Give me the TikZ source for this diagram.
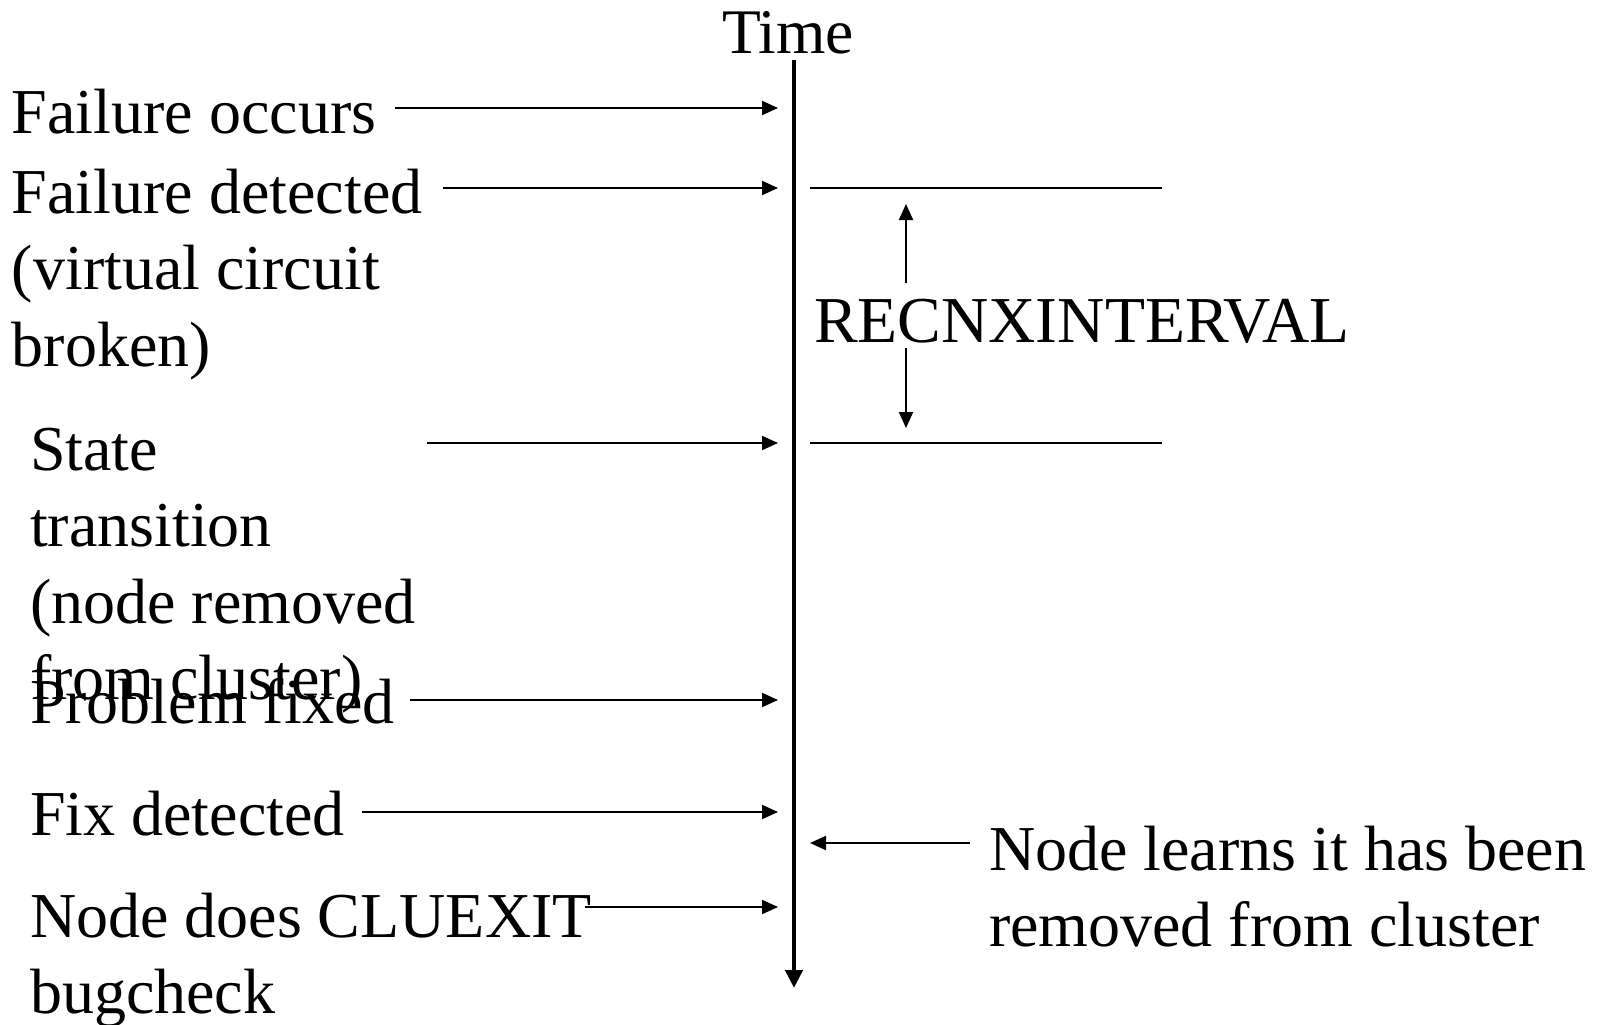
\documentclass[tikz,border=0pt]{standalone}
\usepackage{fontspec}
\setmainfont{Liberation Serif}
\usetikzlibrary{arrows.meta}
\begin{document}
\begin{tikzpicture}[x=1pt,y=-1pt,
  lbl/.style={inner sep=0pt, outer sep=0pt, align=left, anchor=base west,
              font=\fontsize{64}{76.5}\selectfont},
  evt/.style={line width=2pt, -{Triangle[length=16pt,width=14pt]}},
  mark line/.style={line width=2pt},
  timeline/.style={line width=4.5pt, -{Triangle[length=18pt,width=17pt]}}]
\useasboundingbox (0,0) rectangle (1598,1025);

% time axis
\node[inner sep=0pt, anchor=base, font=\fontsize{63.5}{76}\selectfont] (time) at (788,53) {Time};
\coordinate (ttop) at (794,60);
\coordinate (tbot) at (794,988);
\draw[timeline] (ttop) -- (tbot);

% events on the left (multi-line labels are placed by their last baseline)
\node[lbl] (fo) at (12,133) {Failure occurs};
\node[lbl] (fd) at (12,366) {Failure detected\\(virtual circuit\\broken)};
\node[lbl] (st) at (30,699.5) {State\\transition\\(node removed\\from cluster)};
\node[lbl] (pf) at (30,723) {Problem fixed};
\node[lbl] (fx) at (30,835) {Fix detected};
\node[lbl] (nd) at (30,1013.5) {Node does CLUEXIT\\bugcheck};

\coordinate (fo-s) at (395,108);  \coordinate (fo-t) at (778,108);
\coordinate (fd-s) at (443,188);  \coordinate (fd-t) at (778,188);
\coordinate (st-s) at (427,443);  \coordinate (st-t) at (778,443);
\coordinate (pf-s) at (410,700);  \coordinate (pf-t) at (778,700);
\coordinate (fx-s) at (362,812);  \coordinate (fx-t) at (778,812);
\coordinate (nd-s) at (585,907);  \coordinate (nd-t) at (778,907);

\draw[evt] (fo-s) -- (fo-t);
\draw[evt] (fd-s) -- (fd-t);
\draw[evt] (st-s) -- (st-t);
\draw[evt] (pf-s) -- (pf-t);
\draw[evt] (fx-s) -- (fx-t);
\draw[evt] (nd-s) -- (nd-t);

% reconnection interval
\coordinate (m1a) at (810,188);  \coordinate (m1b) at (1162,188);
\coordinate (m2a) at (810,443);  \coordinate (m2b) at (1162,443);
\draw[mark line] (m1a) -- (m1b);
\draw[mark line] (m2a) -- (m2b);
\node[lbl, font=\fontsize{65.5}{78}\selectfont] (rec) at (814,342) {RECNXINTERVAL};
\coordinate (up-s) at (906,283);  \coordinate (up-t) at (906,204);
\coordinate (dn-s) at (906,348);  \coordinate (dn-t) at (906,428);
\draw[evt] (up-s) -- (up-t);
\draw[evt] (dn-s) -- (dn-t);

% removal notice on the right
\node[lbl] (nl) at (989,946.5) {Node learns it has been\\removed from cluster};
\coordinate (nl-s) at (970,843);  \coordinate (nl-t) at (810,843);
\draw[evt] (nl-s) -- (nl-t);
\end{tikzpicture}
\end{document}
